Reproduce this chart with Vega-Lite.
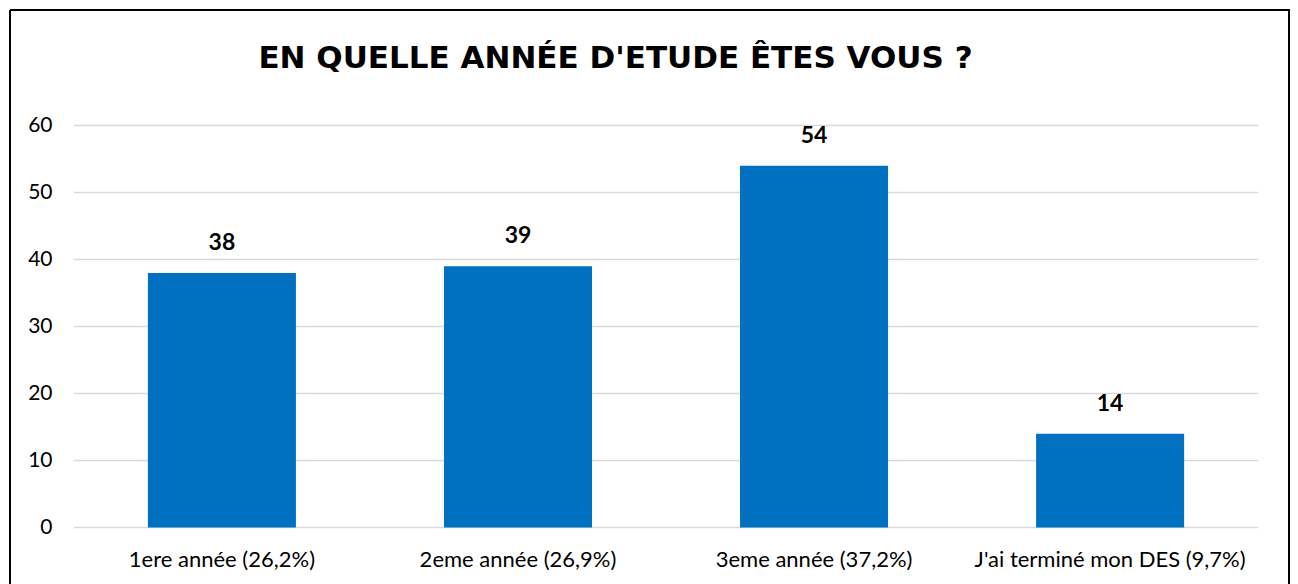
{
  "$schema": "https://vega.github.io/schema/vega-lite/v6.json",
  "autosize": "none",
  "padding": {"left": 10, "top": 10, "right": 9, "bottom": 0},
  "width": 1279,
  "height": 574,
  "background": "white",
  "config": {
    "font": "Lato",
    "view": {"stroke": "#000000", "strokeWidth": 2, "strokeDash": [1853, 1279, 574, 0]}
  },
  "title": {
    "text": "EN QUELLE ANNÉE D'ETUDE ÊTES VOUS ?",
    "font": "DejaVu Sans",
    "fontSize": 31,
    "fontWeight": "bold",
    "color": "#000000",
    "anchor": "middle",
    "frame": "group",
    "baseline": "alphabetic",
    "offset": -89,
    "dx": -34
  },
  "data": {
    "values": [
      {"annee": "1ere année (26,2%)", "n": 38},
      {"annee": "2eme année (26,9%)", "n": 39},
      {"annee": "3eme année (37,2%)", "n": 54},
      {"annee": "J'ai terminé mon DES (9,7%)", "n": 14}
    ]
  },
  "layer": [
    {
      "data": {"values": [{"v": 0}, {"v": 10}, {"v": 20}, {"v": 30}, {"v": 40}, {"v": 50}, {"v": 60}]},
      "mark": {"type": "rule", "color": "#d9d9d9", "strokeWidth": 1.5},
      "encoding": {
        "y": {"field": "v", "type": "quantitative"},
        "x": {"datum": "1ere année (26,2%)", "type": "nominal", "bandPosition": -0.5},
        "x2": {"datum": "J'ai terminé mon DES (9,7%)", "bandPosition": 1.5}
      }
    },
    {
      "mark": {"type": "bar", "color": "#0070C0"},
      "encoding": {
        "x": {
          "field": "annee",
          "type": "nominal",
          "sort": null,
          "scale": {
            "domain": ["1ere année (26,2%)", "2eme année (26,9%)", "3eme année (37,2%)", "J'ai terminé mon DES (9,7%)"],
            "paddingInner": 0.5, "paddingOuter": 0.41, "align": 0.568
          },
          "axis": {
            "title": null,
            "orient": "bottom",
            "offset": -56,
            "bandPosition": 0.5,
            "labelAngle": 0,
            "labelAlign": "center",
            "labelLimit": 0,
            "ticks": false,
            "domain": false,
            "labelFont": "Lato",
            "labelFontSize": 22,
            "labelColor": "#000000",
            "labelBaseline": "alphabetic",
            "labelPadding": 38
          }
        },
        "y": {
          "field": "n",
          "type": "quantitative",
          "scale": {"domain": [-8.433, 77.239], "nice": false, "zero": false},
          "axis": {
            "title": null,
            "values": [0, 10, 20, 30, 40, 50, 60],
            "grid": false,
            "domain": false,
            "ticks": false,
            "offset": -42,
            "labelPadding": 0,
            "labelFont": "Lato",
            "labelFontSize": 21,
            "labelColor": "#000000"
          }
        },
        "y2": {"datum": 0}
      }
    },
    {
      "mark": {"type": "text", "font": "Lato", "fontSize": 23, "fontWeight": "bold", "color": "#000000", "baseline": "alphabetic", "dy": -23},
      "encoding": {
        "x": {"field": "annee", "type": "nominal", "sort": null},
        "y": {"field": "n", "type": "quantitative"},
        "text": {"field": "n", "type": "quantitative"}
      }
    }
  ]
}
